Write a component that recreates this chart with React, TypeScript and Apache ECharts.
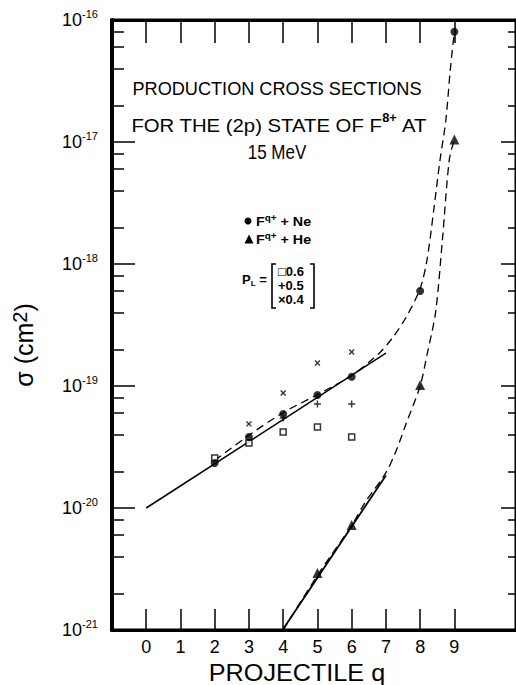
import React, { useEffect, useRef } from 'react';
import * as echarts from 'echarts';

const FONT = '"Liberation Sans", Arial, sans-serif';

// axis ticks / labels
const qTicks = [0, 1, 2, 3, 4, 5, 6, 7, 8, 9];
const decadeTicks = [1e-21, 1e-20, 1e-19, 1e-18, 1e-17, 1e-16];
const minorTicks = [
  2e-21, 4e-21, 6e-21, 8e-21,
  2e-20, 4e-20, 6e-20, 8e-20,
  2e-19, 4e-19, 6e-19, 8e-19,
  2e-18, 4e-18, 6e-18, 8e-18,
  2e-17, 4e-17, 6e-17, 8e-17,
];

// F(q+) + Ne (filled circles)
const neQ = [2, 3, 4, 5, 6, 8, 9];
const neSigma = [2.34e-20, 3.82e-20, 5.89e-20, 8.44e-20, 1.19e-19, 6.0e-19, 8.0e-17];
// F(q+) + He (filled triangles)
const heQ = [5, 6, 8, 9];
const heSigma = [2.93e-21, 7.26e-21, 1.02e-19, 1.05e-17];
// P_L = 0.6 (open squares)
const pl06Q = [2, 3, 4, 5, 6];
const pl06Sigma = [2.57e-20, 3.41e-20, 4.2e-20, 4.61e-20, 3.82e-20];
// P_L = 0.5 (plus)
const pl05Q = [4, 5, 6];
const pl05Sigma = [5.47e-20, 7.11e-20, 7.11e-20];
// P_L = 0.4 (cross)
const pl04Q = [3, 4, 5, 6];
const pl04Sigma = [4.89e-20, 8.77e-20, 1.545e-19, 1.9e-19];

// solid straight fits
const neFitQ = [0, 7];
const neFitSigma = [1.0e-20, 1.86e-19];
const heFitQ = [4, 7];
const heFitSigma = [1.02e-21, 1.85e-20];

// dashed curves
const neCurveQ = [2.0, 3.0, 4.0, 5.0, 6.0, 6.8, 7.2, 7.6, 8.0, 8.2, 8.4, 8.58, 8.75, 8.88, 9.0];
const neCurveSigma = [2.45e-20, 3.95e-20, 6.05e-20, 8.5e-20, 1.22e-19, 1.85e-19, 2.5e-19, 3.7e-19, 6.3e-19, 1.08e-18, 2.8e-18, 7.1e-18, 1.5e-17, 3.9e-17, 8.0e-17];
const heCurveQ = [4.0, 5.0, 6.0, 6.4, 7.0, 7.3, 7.6, 8.0, 8.2, 8.45, 8.65, 8.85, 9.0];
const heCurveSigma = [1.0e-21, 2.8e-21, 7.2e-21, 1.12e-20, 1.95e-20, 2.95e-20, 5.0e-20, 1.0e-19, 1.8e-19, 4.0e-19, 1.57e-18, 7.1e-18, 1.05e-17];

const zip = (xs: number[], ys: number[]) => xs.map((x, i) => [x, ys[i]]);

const PLUS = 'path://M0,3.2H8V4.8H0Z M3.2,0H4.8V8H3.2Z';

export default function App() {
  const ref = useRef<HTMLDivElement>(null);
  useEffect(() => {
    if (!ref.current) return;
    const chart = echarts.init(ref.current, undefined, { renderer: 'svg' });
    const black = '#000';
    const axisCommonX = {
      type: 'value' as const,
      min: -1,
      max: 10.8,
      interval: 1,
      splitLine: { show: false },
    };
    const axisCommonY = {
      type: 'log' as const,
      logBase: 10,
      min: 1e-21,
      max: 1e-16,
      splitLine: { show: false },
    };
    const mainLine = () => ({ show: true, onZero: false, lineStyle: { color: black, width: 3 } });
    const center = { align: 'center', verticalAlign: 'middle', textAlign: 'center', textVerticalAlign: 'middle' };
    const leftMid = { align: 'left', verticalAlign: 'middle', textAlign: 'left', textVerticalAlign: 'middle' };
    const legendRich = {
      a: { fontSize: 13, fontFamily: FONT, fontWeight: 'bold', color: black, fill: black },
      s: { fontSize: 9, fontFamily: FONT, fontWeight: 'bold', color: black, fill: black, padding: [0, 0, 9, 0] },
    };
    chart.setOption({
      animation: false,
      backgroundColor: '#fff',
      grid: {
        left: 112, top: 20, right: -3, bottom: 55, containLabel: false,
        show: true, borderColor: black, borderWidth: 3, backgroundColor: 'transparent',
      },
      xAxis: [
        {
          ...axisCommonX,
          position: 'bottom',
          axisLine: mainLine(),
          axisTick: { inside: true, length: 21, customValues: qTicks, lineStyle: { color: black, width: 1.5 } },
          axisLabel: { customValues: qTicks, margin: 8, fontSize: 18, color: black, fontFamily: FONT },
        },
        {
          ...axisCommonX,
          position: 'top',
          axisLine: mainLine(),
          axisTick: { inside: true, length: 23, customValues: qTicks, lineStyle: { color: black, width: 1.5 } },
          axisLabel: { show: false },
        },
      ],
      yAxis: [
        {
          ...axisCommonY,
          position: 'left',
          axisLine: mainLine(),
          axisTick: { inside: true, length: 23, customValues: decadeTicks, lineStyle: { color: black, width: 1.5 } },
          axisLabel: {
            customValues: decadeTicks,
            align: 'left',
            margin: 50,
            color: black,
            formatter: (v: number) => `{b|10}{s|${Math.round(Math.log10(v))}}`,
            rich: {
              b: { fontSize: 18, fontFamily: FONT, color: black },
              s: { fontSize: 11, fontFamily: FONT, color: black, padding: [0, 0, 12, 0] },
            },
          },
        },
        {
          ...axisCommonY,
          position: 'left',
          axisLine: mainLine(),
          axisTick: { inside: true, length: 12, customValues: minorTicks, lineStyle: { color: black, width: 1.5 } },
          axisLabel: { show: false },
        },
        {
          ...axisCommonY,
          position: 'right',
          axisLine: mainLine(),
          axisTick: { inside: true, length: 15, customValues: decadeTicks, lineStyle: { color: black, width: 1.5 } },
          axisLabel: { show: false },
        },
        {
          ...axisCommonY,
          position: 'right',
          axisLine: mainLine(),
          axisTick: { inside: true, length: 8, customValues: minorTicks, lineStyle: { color: black, width: 1.5 } },
          axisLabel: { show: false },
        },
      ],
      series: [
        {
          type: 'line', data: zip(neFitQ, neFitSigma), symbol: 'none',
          lineStyle: { color: black, width: 1.5 }, z: 2,
        },
        {
          type: 'line', data: zip(heFitQ, heFitSigma), symbol: 'none',
          lineStyle: { color: black, width: 1.8 }, z: 2,
        },
        {
          type: 'line', data: zip(neCurveQ, neCurveSigma), symbol: 'none', smooth: 0.3,
          lineStyle: { color: black, width: 1.3, type: [8, 5] }, z: 2,
        },
        {
          type: 'line', data: zip(heCurveQ, heCurveSigma), symbol: 'none', smooth: 0.3,
          lineStyle: { color: black, width: 1.3, type: [8, 5] }, z: 2,
        },
        {
          type: 'scatter', data: zip(pl06Q, pl06Sigma), symbol: 'rect', symbolSize: 6,
          itemStyle: { color: '#fff', borderColor: black, borderWidth: 1.5 }, z: 3,
        },
        {
          type: 'scatter', data: zip(pl05Q, pl05Sigma), symbol: PLUS, symbolSize: 7,
          itemStyle: { color: black }, z: 3,
        },
        {
          type: 'scatter', data: zip(pl04Q, pl04Sigma), symbol: PLUS, symbolSize: 7, symbolRotate: 45,
          itemStyle: { color: black }, z: 3,
        },
        {
          type: 'scatter', data: zip(neQ, neSigma), symbol: 'circle', symbolSize: 8,
          itemStyle: { color: black }, z: 4,
        },
        {
          type: 'scatter', data: zip(heQ, heSigma), symbol: 'triangle', symbolSize: 10,
          itemStyle: { color: black }, z: 4,
        },
      ],
      graphic: [
        // plot frame, left edge (filled bar)
        { type: 'rect', z: 100, shape: { x: 110, y: 18.5, width: 3.5, height: 613 }, style: { fill: black } },
        {
          type: 'text', x: 277, y: 88, scaleX: 0.955,
          style: { text: 'PRODUCTION CROSS SECTIONS', fontSize: 19, fontFamily: FONT, fill: black, ...center },
        },
        {
          type: 'text', x: 279, y: 125, scaleX: 1.07,
          style: {
            text: '{a|FOR THE (2p) STATE OF F}{s|8+}{a| AT}',
            fill: black, ...center,
            rich: {
              a: { fontSize: 19, fontFamily: FONT, fill: black, color: black },
              s: { fontSize: 12, fontFamily: FONT, fill: black, color: black, fontWeight: 'bold', padding: [0, 0, 14, 0] },
            },
          },
        },
        {
          type: 'text', x: 277, y: 152, scaleX: 0.85,
          style: { text: '15 MeV', fontSize: 20, fontFamily: FONT, fill: black, ...center },
        },
        { type: 'circle', shape: { cx: 248, cy: 221, r: 3.5 }, style: { fill: black } },
        {
          type: 'text', x: 256, y: 222, scaleX: 1.1,
          style: { text: '{a|F}{s|q+}{a| + Ne}', fill: black, ...leftMid, rich: legendRich },
        },
        { type: 'polygon', shape: { points: [[244.5, 243.5], [249, 234.5], [253.5, 243.5]] }, style: { fill: black } },
        {
          type: 'text', x: 256, y: 240, scaleX: 1.1,
          style: { text: '{a|F}{s|q+}{a| + He}', fill: black, ...leftMid, rich: legendRich },
        },
        {
          type: 'text', x: 242, y: 279,
          style: {
            text: '{a|P}{u|L}{a| =}', fill: black, ...leftMid,
            rich: {
              a: { fontSize: 13, fontFamily: FONT, fontWeight: 'bold', color: black, fill: black },
              u: { fontSize: 8, fontFamily: FONT, fontWeight: 'bold', color: black, fill: black, padding: [9, 0, 0, 0] },
            },
          },
        },
        { type: 'polyline', shape: { points: [[276, 264], [272, 264], [272, 308], [276, 308]] }, style: { stroke: black, lineWidth: 1.6, fill: null } },
        { type: 'polyline', shape: { points: [[310, 264], [314, 264], [314, 308], [310, 308]] }, style: { stroke: black, lineWidth: 1.6, fill: null } },
        {
          type: 'text', x: 278, y: 271,
          style: { text: '□0.6', fontSize: 13, fontFamily: FONT, fontWeight: 'bold', fill: black, ...leftMid },
        },
        {
          type: 'text', x: 278, y: 285,
          style: { text: '+0.5', fontSize: 13, fontFamily: FONT, fontWeight: 'bold', fill: black, ...leftMid },
        },
        {
          type: 'text', x: 278, y: 299,
          style: { text: '×0.4', fontSize: 13, fontFamily: FONT, fontWeight: 'bold', fill: black, ...leftMid },
        },
        {
          type: 'text', x: 24, y: 345, rotation: Math.PI / 2,
          style: {
            text: '{a|σ (cm}{s|2}{a|)}', fill: black, ...center,
            rich: {
              a: { fontSize: 25, fontFamily: FONT, color: black, fill: black },
              s: { fontSize: 20, fontFamily: FONT, color: black, fill: black, padding: [0, 0, 8, 0] },
            },
          },
        },
        {
          type: 'text', x: 297, y: 673, scaleX: 1.05,
          style: { text: 'PROJECTILE q', fontSize: 24, fontFamily: FONT, fill: black, ...center },
        },
      ],
    });
    return () => chart.dispose();
  }, []);
  return <div ref={ref} style={{ position: 'absolute', left: 0, top: 0, width: 516, height: 685, background: '#fff' }} />;
}
